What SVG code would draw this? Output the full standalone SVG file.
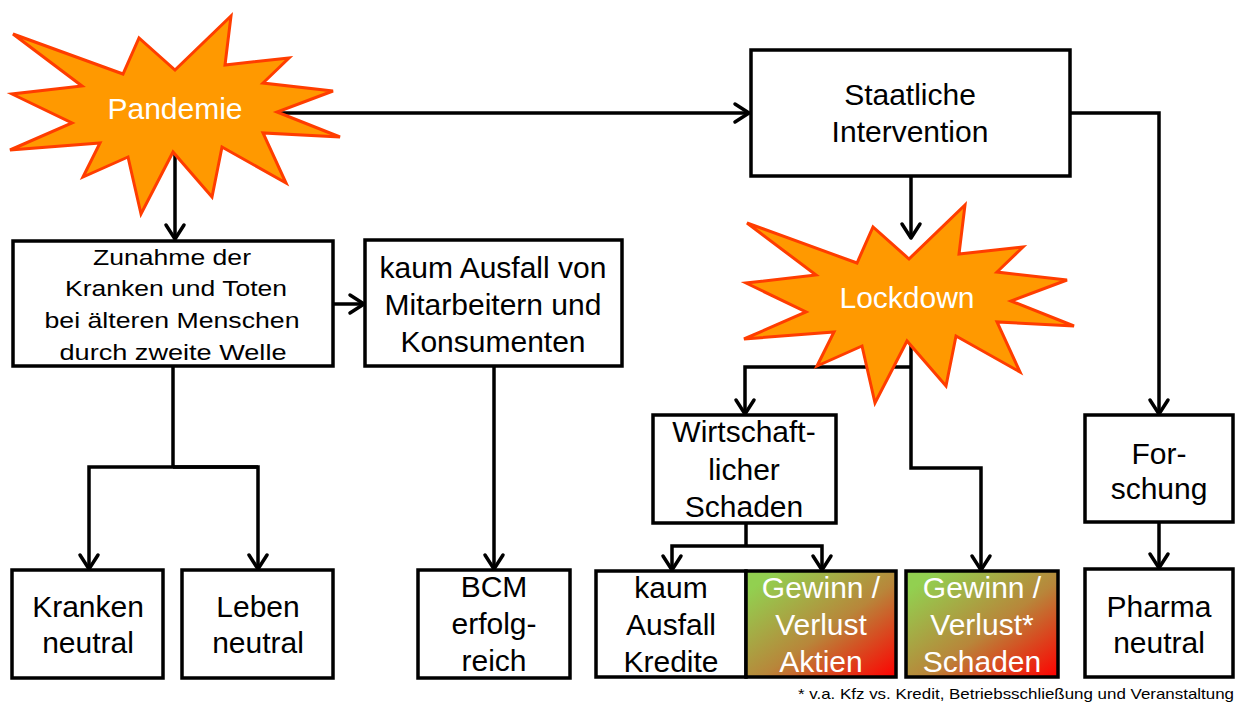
<svg xmlns="http://www.w3.org/2000/svg" width="1236" height="702" viewBox="0 0 1236 702">
<style>
.box{fill:#fff;stroke:#000;stroke-width:3.5}
.grad{fill:url(#gv);stroke:#000;stroke-width:3.5}
.star{fill:#FF9900;stroke:#FF3D00;stroke-width:3;stroke-linejoin:miter}
.t{font-family:"Liberation Sans",Arial,sans-serif;font-size:30px;fill:#000;text-anchor:middle}
.w{fill:#fff}
.s{font-family:"Liberation Sans",Arial,sans-serif;font-size:22px;fill:#000;text-anchor:middle}
.fn{font-family:"Liberation Sans",Arial,sans-serif;font-size:15px;fill:#000}
.c{fill:none;stroke:#000;stroke-width:3.5}
.a{marker-end:url(#arr)}
</style>
<defs>
<marker id="arr" markerUnits="userSpaceOnUse" viewBox="-18 -12 22 24" refX="0" refY="0" markerWidth="22" markerHeight="24" orient="auto">
<path d="M-14,-9 L0,0 L-14,9" fill="none" stroke="#000" stroke-width="3.5" stroke-linejoin="round" stroke-linecap="round"/>
</marker>
<linearGradient id="gv" x1="0" y1="0" x2="1" y2="1">
<stop offset="0.1" stop-color="#92D050"/>
<stop offset="0.55" stop-color="#B8863A"/>
<stop offset="1" stop-color="#FF0000"/>
</linearGradient>
<polygon id="starshape" points="13,34 123,74 139,38 175,70 231,16 225,65 289,58 263,83 333,91 277,112 340,137 263,133 286,183 222,147 212,197 173,152 141,214 128,157 83,177 100,143 10,150 72,123 12,94 82,86"/>
</defs>
<rect width="1236" height="702" fill="#fff"/>
<g id="connectors">
<path class="c a" d="M277,113 H749"/>
<path class="c a" d="M175,152 V239"/>
<path class="c a" d="M333,304 H364"/>
<path class="c" d="M173,366 V467"/>
<path class="c a" d="M258,467 H89 V569"/>
<path class="c a" d="M173,467 H258 V569"/>
<path class="c a" d="M494,366 V569"/>
<path class="c a" d="M911,176 V238"/>
<path class="c a" d="M1070,113 H1159 V414"/>
<path class="c a" d="M1159,522 V568"/>
<path class="c a" d="M911,367 H745 V414"/>
<path class="c a" d="M911,340 V468 H981 V570"/>
<path class="c" d="M746,523 V546"/>
<path class="c a" d="M746,546 H672 V570"/>
<path class="c a" d="M746,546 H822 V570"/>
</g>
<g id="pandemie">
<use href="#starshape" class="star"/>
<text class="t w" x="175" y="119">Pandemie</text>
</g>
<g id="staatliche">
<rect class="box" x="751" y="50" width="319" height="126"/>
<text class="t" x="910" y="105">Staatliche</text>
<text class="t" x="910" y="142">Intervention</text>
</g>
<g id="lockdown">
<use href="#starshape" class="star" transform="translate(734,189)"/>
<text class="t w" x="907" y="308">Lockdown</text>
</g>
<g id="zunahme">
<rect class="box" x="13" y="241" width="320" height="125"/>
<text class="s" x="172" y="265" textLength="158" lengthAdjust="spacingAndGlyphs">Zunahme der</text>
<text class="s" x="176" y="296" textLength="222" lengthAdjust="spacingAndGlyphs">Kranken und Toten</text>
<text class="s" x="172" y="328" textLength="255" lengthAdjust="spacingAndGlyphs">bei älteren Menschen</text>
<text class="s" x="173" y="360" textLength="227" lengthAdjust="spacingAndGlyphs">durch zweite Welle</text>
</g>
<g id="kaum-ausfall">
<rect class="box" x="365" y="240" width="257" height="126"/>
<text class="t" x="493" y="278">kaum Ausfall von</text>
<text class="t" x="493" y="315">Mitarbeitern und</text>
<text class="t" x="493" y="352">Konsumenten</text>
</g>
<g id="wirtschaft">
<rect class="box" x="653" y="415" width="183" height="108"/>
<text class="t" x="744" y="442">Wirtschaft-</text>
<text class="t" x="744" y="480">licher</text>
<text class="t" x="744" y="517">Schaden</text>
</g>
<g id="forschung">
<rect class="box" x="1085" y="415" width="148" height="107"/>
<text class="t" x="1159" y="464">For-</text>
<text class="t" x="1159" y="499">schung</text>
</g>
<g id="kranken">
<rect class="box" x="12" y="570" width="151" height="108"/>
<text class="t" x="88" y="617">Kranken</text>
<text class="t" x="88" y="653">neutral</text>
</g>
<g id="leben">
<rect class="box" x="182" y="570" width="151" height="108"/>
<text class="t" x="258" y="617">Leben</text>
<text class="t" x="258" y="653">neutral</text>
</g>
<g id="bcm">
<rect class="box" x="418" y="570" width="152" height="108"/>
<text class="t" x="494" y="597">BCM</text>
<text class="t" x="494" y="634">erfolg-</text>
<text class="t" x="494" y="671">reich</text>
</g>
<g id="kredite">
<rect class="box" x="596" y="571" width="150" height="106"/>
<text class="t" x="671" y="598">kaum</text>
<text class="t" x="671" y="635">Ausfall</text>
<text class="t" x="671" y="672">Kredite</text>
</g>
<g id="aktien">
<rect class="grad" x="746" y="571" width="150" height="106"/>
<text class="t w" x="821" y="598">Gewinn /</text>
<text class="t w" x="821" y="635">Verlust</text>
<text class="t w" x="821" y="672">Aktien</text>
</g>
<g id="schaden">
<rect class="grad" x="906" y="571" width="152" height="106"/>
<text class="t w" x="982" y="598">Gewinn /</text>
<text class="t w" x="982" y="635">Verlust*</text>
<text class="t w" x="982" y="672">Schaden</text>
</g>
<g id="pharma">
<rect class="box" x="1085" y="569" width="148" height="108"/>
<text class="t" x="1159" y="617">Pharma</text>
<text class="t" x="1159" y="653">neutral</text>
</g>
<text class="fn" x="798" y="699" textLength="436" lengthAdjust="spacingAndGlyphs">* v.a. Kfz vs. Kredit, Betriebsschließung und Veranstaltung</text>
</svg>
